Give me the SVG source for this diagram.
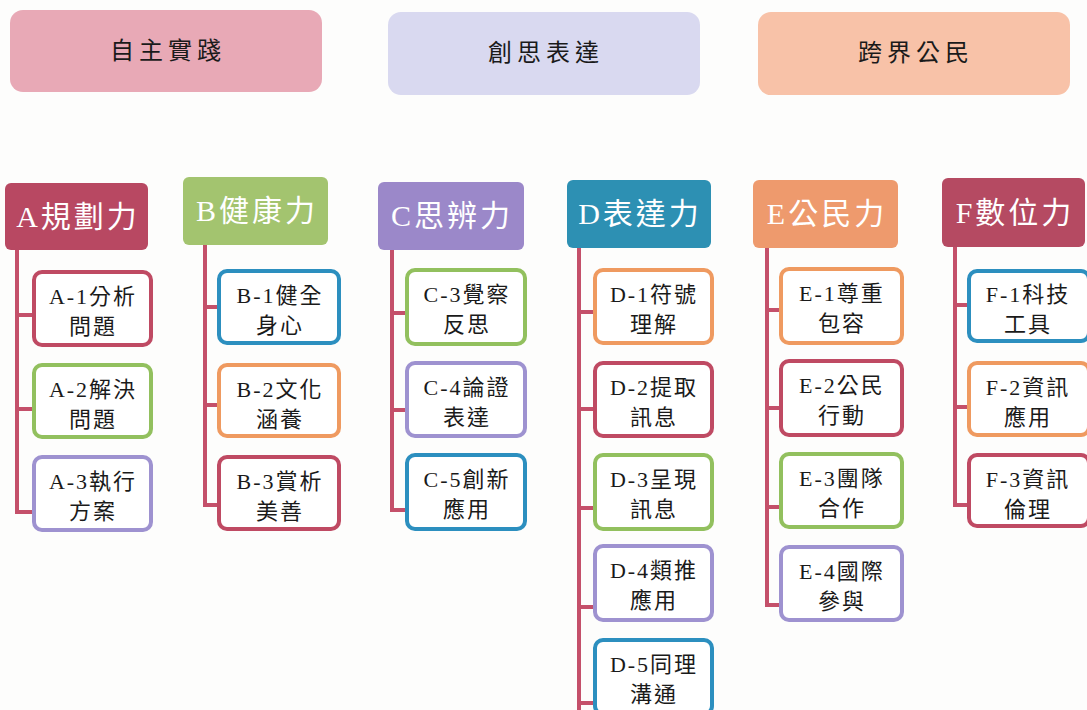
<svg xmlns="http://www.w3.org/2000/svg" width="1087" height="710" viewBox="0 0 1087 710">
<style>
.bg{fill:#fdfdfc}
.ban{stroke:none}
.bt{font-family:"Liberation Serif","Noto Sans CJK TC",serif;font-size:24px;fill:#1a1a1a;text-anchor:middle;letter-spacing:5px}
.hd{stroke:none}
.ht{font-family:"Liberation Serif","Noto Sans CJK TC",serif;font-size:30px;fill:#ffffff;text-anchor:middle;letter-spacing:3px}
.ch{fill:#ffffff;stroke-width:4}
.ct{font-family:"Liberation Serif","Noto Sans CJK TC",serif;font-size:22px;fill:#1a1a1a;text-anchor:middle;letter-spacing:2px}
.cr{stroke:#bf4a63}.gr{stroke:#92c05e}.pu{stroke:#9e92d0}.bl{stroke:#2c8fbf}.or{stroke:#ef9a60}
.ln{fill:none;stroke:#c4506a;stroke-width:4}
</style>
<rect class="bg" x="0" y="0" width="1087" height="710"/>

<g id="banner-1"><rect class="ban" x="10" y="10" width="312" height="82" rx="13" fill="#e8a9b6"/><text class="bt" x="168" y="59">自主實踐</text></g>
<g id="banner-2"><rect class="ban" x="388" y="12" width="312" height="83" rx="13" fill="#d9d9f0"/><text class="bt" x="546" y="61">創思表達</text></g>
<g id="banner-3"><rect class="ban" x="758" y="12" width="312" height="83" rx="13" fill="#f8c2a8"/><text class="bt" x="916" y="61">跨界公民</text></g>

<g id="connectors">
<path class="ln" d="M17 250V514M17 315H34M17 409H34M17 512H34"/>
<path class="ln" d="M205 245V507M205 307H219M205 405H219M205 505H219"/>
<path class="ln" d="M392 250V512M392 313H407M392 410H407M392 510H407"/>
<path class="ln" d="M579 248V712M579 312H595M579 409H595M579 508H595M579 607H595M579 703H595"/>
<path class="ln" d="M767 248V607M767 310H781M767 408H781M767 507H781M767 605H781"/>
<path class="ln" d="M955 247V507M955 305H969M955 407H969M955 505H969"/>
</g>

<g id="A"><rect class="hd" x="5" y="183" width="143" height="67" rx="6" fill="#b84862"/><text class="ht" x="78" y="227">A規劃力</text></g>
<g id="B"><rect class="hd" x="183" y="177" width="145" height="68" rx="6" fill="#a3c46f"/><text class="ht" x="257" y="221">B健康力</text></g>
<g id="C"><rect class="hd" x="378" y="182" width="146" height="68" rx="6" fill="#9b88c9"/><text class="ht" x="452" y="226">C思辨力</text></g>
<g id="D"><rect class="hd" x="567" y="180" width="144" height="68" rx="6" fill="#2d90b3"/><text class="ht" x="640" y="224">D表達力</text></g>
<g id="E"><rect class="hd" x="753" y="180" width="145" height="68" rx="6" fill="#ee9a6d"/><text class="ht" x="827" y="224">E公民力</text></g>
<g id="F"><rect class="hd" x="942" y="178" width="143" height="69" rx="6" fill="#b54a62"/><text class="ht" x="1015" y="223">F數位力</text></g>

<g id="A-1"><rect class="ch cr" x="34" y="272" width="117" height="73" rx="8"/><text class="ct" x="93" y="304">A-1分析</text><text class="ct" x="93" y="334">問題</text></g>
<g id="A-2"><rect class="ch gr" x="34" y="365" width="117" height="72" rx="8"/><text class="ct" x="93" y="397">A-2解決</text><text class="ct" x="93" y="427">問題</text></g>
<g id="A-3"><rect class="ch pu" x="34" y="457" width="117" height="73" rx="8"/><text class="ct" x="93" y="489">A-3執行</text><text class="ct" x="93" y="519">方案</text></g>

<g id="B-1"><rect class="ch bl" x="219" y="271" width="120" height="72" rx="8"/><text class="ct" x="280" y="303">B-1健全</text><text class="ct" x="280" y="333">身心</text></g>
<g id="B-2"><rect class="ch or" x="219" y="365" width="120" height="71" rx="8"/><text class="ct" x="280" y="397">B-2文化</text><text class="ct" x="280" y="427">涵養</text></g>
<g id="B-3"><rect class="ch cr" x="219" y="457" width="120" height="72" rx="8"/><text class="ct" x="280" y="489">B-3賞析</text><text class="ct" x="280" y="519">美善</text></g>

<g id="C-3"><rect class="ch gr" x="407" y="270" width="118" height="74" rx="8"/><text class="ct" x="467" y="302">C-3覺察</text><text class="ct" x="467" y="332">反思</text></g>
<g id="C-4"><rect class="ch pu" x="407" y="363" width="118" height="73" rx="8"/><text class="ct" x="467" y="395">C-4論證</text><text class="ct" x="467" y="425">表達</text></g>
<g id="C-5"><rect class="ch bl" x="407" y="455" width="118" height="74" rx="8"/><text class="ct" x="467" y="487">C-5創新</text><text class="ct" x="467" y="517">應用</text></g>

<g id="D-1"><rect class="ch or" x="595" y="270" width="117" height="73" rx="8"/><text class="ct" x="654" y="302">D-1符號</text><text class="ct" x="654" y="332">理解</text></g>
<g id="D-2"><rect class="ch cr" x="595" y="363" width="117" height="73" rx="8"/><text class="ct" x="654" y="395">D-2提取</text><text class="ct" x="654" y="425">訊息</text></g>
<g id="D-3"><rect class="ch gr" x="595" y="455" width="117" height="74" rx="8"/><text class="ct" x="654" y="487">D-3呈現</text><text class="ct" x="654" y="517">訊息</text></g>
<g id="D-4"><rect class="ch pu" x="595" y="546" width="117" height="74" rx="8"/><text class="ct" x="654" y="578">D-4類推</text><text class="ct" x="654" y="608">應用</text></g>
<g id="D-5"><rect class="ch bl" x="595" y="640" width="117" height="74" rx="8"/><text class="ct" x="654" y="672">D-5同理</text><text class="ct" x="654" y="702">溝通</text></g>

<g id="E-1"><rect class="ch or" x="781" y="269" width="121" height="74" rx="8"/><text class="ct" x="842" y="301">E-1尊重</text><text class="ct" x="842" y="331">包容</text></g>
<g id="E-2"><rect class="ch cr" x="781" y="361" width="121" height="74" rx="8"/><text class="ct" x="842" y="393">E-2公民</text><text class="ct" x="842" y="423">行動</text></g>
<g id="E-3"><rect class="ch gr" x="781" y="454" width="121" height="73" rx="8"/><text class="ct" x="842" y="486">E-3團隊</text><text class="ct" x="842" y="516">合作</text></g>
<g id="E-4"><rect class="ch pu" x="781" y="547" width="121" height="73" rx="8"/><text class="ct" x="842" y="579">E-4國際</text><text class="ct" x="842" y="609">參與</text></g>

<g id="F-1"><rect class="ch bl" x="969" y="271" width="120" height="70" rx="8"/><text class="ct" x="1028" y="302">F-1科技</text><text class="ct" x="1028" y="332">工具</text></g>
<g id="F-2"><rect class="ch or" x="969" y="363" width="120" height="72" rx="8"/><text class="ct" x="1028" y="395">F-2資訊</text><text class="ct" x="1028" y="425">應用</text></g>
<g id="F-3"><rect class="ch cr" x="969" y="455" width="120" height="71" rx="8"/><text class="ct" x="1028" y="487">F-3資訊</text><text class="ct" x="1028" y="517">倫理</text></g>
</svg>
